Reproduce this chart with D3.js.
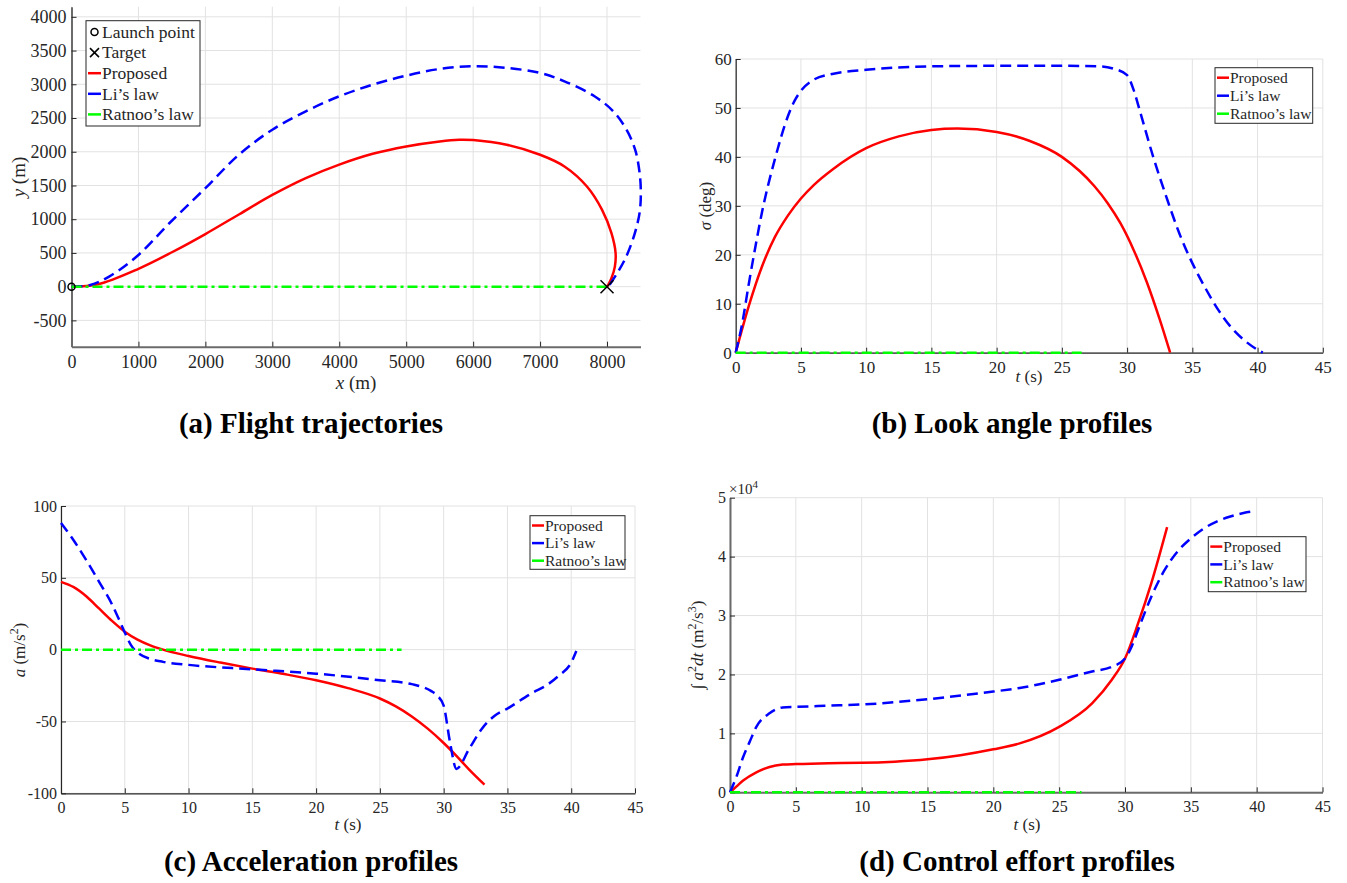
<!DOCTYPE html>
<html>
<head>
<meta charset="utf-8">
<script src="https://cdn.jsdelivr.net/npm/d3@7"></script>
<style>
  body { margin: 0; background: #fff; }
  text { font-family: "Liberation Serif", "Times New Roman", serif; fill: #262626; }
</style>
</head>
<body>
<svg id="fig" width="1347" height="883"></svg>
<script>
// ---------- (a) flight trajectories (m) ----------
const trajPropX = [0, 393, 1000, 1500, 2000, 2500, 3000, 3500, 4000, 4500, 5000, 5500, 5790, 6000, 6500, 7000, 7364, 7700, 7926, 8066, 8128, 8117, 8066, 8030, 8000];
const trajPropY = [0, 35, 265, 510, 780, 1070, 1360, 1610, 1810, 1970, 2079, 2153, 2178, 2173, 2104, 1955, 1782, 1485, 1139, 792, 495, 297, 124, 50, 0];
const trajLiX = [0, 281, 562, 1000, 1461, 2000, 2500, 3000, 3500, 4000, 4500, 5000, 5500, 6000, 6500, 7000, 7364, 7813, 8094, 8291, 8420, 8485, 8505, 8490, 8440, 8365, 8263, 8150, 8020];
const trajLiY = [0, 25, 149, 470, 940, 1460, 1955, 2327, 2599, 2822, 2995, 3128, 3227, 3267, 3242, 3168, 3044, 2822, 2599, 2327, 2030, 1700, 1400, 1120, 880, 640, 396, 198, 0];
const trajRatnooX = [0, 8000];
const trajRatnooY = [0, 0];
const launchPoint = [0, 0];
const targetPoint = [8000, 0];

// ---------- (b) look angle (deg) ----------
const lookPropT = [0, 1, 2, 3, 4, 5, 6, 7.5, 10, 12.5, 15, 17, 20, 22.5, 25, 27.5, 28.5, 29.5, 30.5, 31.5, 32.5, 33.3];
const lookPropV = [0, 9.5, 17.5, 23.6, 28, 31.5, 34.3, 37.6, 41.8, 44.2, 45.5, 45.8, 45.1, 43.3, 40, 34, 30.6, 26.4, 21, 14.5, 6.8, 0];
const lookLiT = [0, 0.5, 1, 1.5, 2, 3, 4, 4.5, 5, 6, 7.5, 10, 15, 20, 25, 28, 29, 30, 30.5, 31, 32, 33, 34, 35, 36, 37, 38, 39, 40, 40.4];
const lookLiV = [0, 6, 14, 21.5, 28.5, 39.5, 48.3, 51.4, 53.5, 55.8, 57, 57.8, 58.5, 58.6, 58.6, 58.5, 58, 56.7, 53.7, 49.2, 40, 31.9, 24.4, 18.3, 13.2, 8.7, 5.1, 2.5, 0.6, 0];
const lookRatnooT = [0, 26.7];
const lookRatnooV = [0, 0];

// ---------- (c) acceleration (m/s^2) ----------
const accPropT = [0, 1, 2, 3, 4, 5, 6, 7, 8, 10, 12.5, 15, 17.5, 20, 22.5, 25, 26.25, 27.5, 28.75, 30, 31, 32, 33.2];
const accPropV = [47.2, 43.5, 37, 28.5, 20, 12.5, 7, 3, 0, -4.4, -9, -13.2, -17, -21.3, -26.8, -34, -39.5, -46.5, -55, -65, -74, -83.5, -94];
const accLiT = [0, 1, 2, 3, 4, 4.5, 5, 5.5, 6, 7, 8, 10, 15, 20, 25, 27.5, 29, 29.5, 30, 30.5, 31, 32, 33, 34, 35, 37, 38, 39, 40, 40.4];
const accLiV = [88.2, 76, 62, 47, 31.5, 22, 12, 3, -2, -6.5, -8.5, -10.6, -13.7, -16.7, -21.3, -24, -28.7, -32, -39, -64.6, -83, -69, -55, -46, -41, -29.9, -25.2, -18.3, -9, -1];
const accRatnooT = [0, 26.7];
const accRatnooV = [0, 0];

// ---------- (d) control effort (m^2/s^3) ----------
const effPropT = [0, 0.5, 1, 2, 3, 4, 5, 7.5, 10, 12.5, 15, 17.5, 20, 22, 25, 27.5, 29, 30, 31, 32, 33.2];
const effPropV = [0, 1000, 2000, 3400, 4300, 4700, 4800, 4950, 5000, 5200, 5600, 6300, 7300, 8300, 11100, 15100, 19100, 22700, 28700, 35500, 45000];
const effLiT = [0, 0.5, 1, 1.5, 2, 3, 4, 5, 7.5, 10, 15, 20, 22, 25, 27.5, 29, 30, 30.5, 31, 32, 33, 34, 35, 36, 37, 38, 39, 39.8];
const effLiV = [0, 2700, 6000, 8600, 11100, 13400, 14400, 14500, 14700, 14900, 15800, 17100, 17700, 19100, 20500, 21300, 22700, 24700, 27600, 33200, 37700, 40900, 43100, 44800, 46000, 46800, 47400, 47700];
const effRatnooT = [0, 26.7];
const effRatnooV = [0, 0];

const seriesNames = ["Proposed", "Li\u2019s law", "Ratnoo\u2019s law"];

// ---------- styles ----------
const styles = {
  prop:   { color: "#ff0000", dash: null },
  li:     { color: "#0000ff", dash: "11,6" },
  ratnoo: { color: "#00ff00", dash: "10,4,3,4" }
};
const LW = 2.5;
const AXIS = "#262626";
const GRID = "#e2e2e2";
const SERIF = "'Liberation Serif', 'Times New Roman', serif";

const svg = d3.select("#fig");
svg.append("rect").attr("width", 1347).attr("height", 883).attr("fill", "#fff");

function makePanel(o) {
  const g = svg.append("g");
  const xs = d3.scaleLinear().domain(o.xDomain).range([o.left, o.right]);
  const ys = d3.scaleLinear().domain(o.yDomain).range([o.bottom, o.top]);

  // grid
  g.append("g").selectAll("line").data(o.xTicks).join("line")
    .attr("x1", d => xs(d)).attr("x2", d => xs(d))
    .attr("y1", o.top).attr("y2", o.bottom)
    .attr("stroke", GRID).attr("stroke-width", 1);
  g.append("g").selectAll("line").data(o.yTicks).join("line")
    .attr("x1", o.left).attr("x2", o.right)
    .attr("y1", d => ys(d)).attr("y2", d => ys(d))
    .attr("stroke", GRID).attr("stroke-width", 1);

  // axes with inward ticks
  const ax = g.append("g").attr("transform", `translate(0,${o.bottom})`)
    .call(d3.axisBottom(xs).tickValues(o.xTicks).tickSize(-5).tickSizeOuter(0).tickPadding(o.xPad).tickFormat(o.xFormat || d3.format("d")));
  const ay = g.append("g").attr("transform", `translate(${o.left},0)`)
    .call(d3.axisLeft(ys).tickValues(o.yTicks).tickSize(-5).tickSizeOuter(0).tickPadding(o.yPad).tickFormat(o.yFormat || d3.format("d")));
  [ax, ay].forEach(a => {
    a.attr("font-family", SERIF);
    a.select(".domain").attr("stroke", o.axisColor || AXIS).attr("stroke-width", o.axisWidth || 1.2);
    a.selectAll(".tick line").attr("stroke", AXIS).attr("stroke-width", 1);
    a.selectAll(".tick text").attr("font-size", o.tickFont).attr("fill", AXIS);
  });
  ay.selectAll(".tick text").text(function () { return this.textContent.replace("\u2212", "-"); });
  return { g, xs, ys };
}

function drawSeries(p, xsArr, ysArr, st, curve) {
  const pts = xsArr.map((v, i) => [v, ysArr[i]]);
  const line = d3.line().x(d => p.xs(d[0])).y(d => p.ys(d[1])).curve(curve || d3.curveMonotoneX);
  p.g.append("path").datum(pts)
    .attr("d", line).attr("fill", "none")
    .attr("stroke", st.color).attr("stroke-width", LW)
    .attr("stroke-dasharray", st.dash).attr("stroke-linejoin", "round");
}

function legend(x, y, w, h, rows, fs, rowH, sampleLen) {
  const g = svg.append("g");
  g.append("rect").attr("x", x).attr("y", y).attr("width", w).attr("height", h)
    .attr("fill", "#fff").attr("stroke", AXIS).attr("stroke-width", 1);
  rows.forEach((r, i) => {
    const cy = y + rowH * (i + 0.5) + 1;
    const sx = x + 2;
    if (r.kind === "line") {
      g.append("line").attr("x1", sx).attr("x2", sx + sampleLen).attr("y1", cy).attr("y2", cy)
        .attr("stroke", r.color).attr("stroke-width", 2.5);
    } else if (r.kind === "circle") {
      g.append("circle").attr("cx", sx + sampleLen / 2).attr("cy", cy).attr("r", 3.5)
        .attr("fill", "none").attr("stroke", "#000").attr("stroke-width", 1.5);
    } else if (r.kind === "cross") {
      const c = sx + sampleLen / 2, s = 4.5;
      g.append("path").attr("d", `M${c - s},${cy - s}L${c + s},${cy + s}M${c - s},${cy + s}L${c + s},${cy - s}`)
        .attr("stroke", "#000").attr("stroke-width", 1.5);
    }
    g.append("text").attr("x", sx + sampleLen + 1).attr("y", cy + fs * 0.33)
      .attr("font-size", fs).text(r.label);
  });
}

function caption(x, y, s) {
  svg.append("text").attr("x", x).attr("y", y).attr("text-anchor", "middle")
    .attr("font-size", 29).attr("font-weight", "bold").style("fill", "#000").text(s);
}

// axis label: italic variables, upright units
function axisLabel(x, y, rotate, fs, parts) {
  const t = svg.append("text").attr("font-size", fs).attr("text-anchor", "middle")
    .attr("transform", `translate(${x},${y})` + (rotate ? " rotate(-90)" : ""));
  parts.forEach(pt => {
    const s = t.append("tspan").text(pt.t);
    if (pt.i) s.attr("font-style", "italic");
    if (pt.sup) s.attr("baseline-shift", "super").attr("font-size", fs * 0.7);
  });
  return t;
}

// ===== (a) =====
const pA = makePanel({
  left: 71.5, right: 640.5, top: 6.7, bottom: 346.7,
  xDomain: [0, 8500], yDomain: [-890, 4150],
  xTicks: d3.range(0, 8001, 1000), yTicks: d3.range(-500, 4001, 500),
  tickFont: 18, xPad: 9, yPad: 5, axisColor: "#6b6b6b", axisWidth: 2
});
drawSeries(pA, trajPropX, trajPropY, styles.prop, d3.curveCatmullRom.alpha(0.5));
drawSeries(pA, trajLiX, trajLiY, styles.li, d3.curveCatmullRom.alpha(0.5));
drawSeries(pA, trajRatnooX, trajRatnooY, styles.ratnoo, d3.curveLinear);
pA.g.append("circle").attr("cx", pA.xs(launchPoint[0])).attr("cy", pA.ys(launchPoint[1])).attr("r", 3.5)
  .attr("fill", "none").attr("stroke", "#000").attr("stroke-width", 1.5);
{
  const cx = pA.xs(targetPoint[0]), cy = pA.ys(targetPoint[1]), s = 6.5;
  pA.g.append("path").attr("d", `M${cx - s},${cy - s}L${cx + s},${cy + s}M${cx - s},${cy + s}L${cx + s},${cy - s}`)
    .attr("stroke", "#000").attr("stroke-width", 1.5);
}
legend(86, 20.7, 114, 105.3, [
  { kind: "circle", label: "Launch point" },
  { kind: "cross", label: "Target" },
  { kind: "line", color: styles.prop.color, label: seriesNames[0] },
  { kind: "line", color: styles.li.color, label: seriesNames[1] },
  { kind: "line", color: styles.ratnoo.color, label: seriesNames[2] }
], 17.5, 20.6, 13);
axisLabel(356, 389, false, 19, [{ t: "x", i: true }, { t: " (m)" }]);
axisLabel(25, 177, true, 19, [{ t: "y", i: true }, { t: " (m)" }]);
caption(311, 433, "(a) Flight trajectories");

// ===== (b) =====
const pB = makePanel({
  left: 735.7, right: 1322.8, top: 59, bottom: 352.7,
  xDomain: [0, 45], yDomain: [0, 60],
  xTicks: d3.range(0, 46, 5), yTicks: d3.range(0, 61, 10),
  tickFont: 17, xPad: 8, yPad: 4
});
drawSeries(pB, lookPropT, lookPropV, styles.prop);
drawSeries(pB, lookLiT, lookLiV, styles.li);
drawSeries(pB, lookRatnooT, lookRatnooV, styles.ratnoo, d3.curveLinear);
legend(1215, 67.7, 97.7, 55.6, [
  { kind: "line", color: styles.prop.color, label: seriesNames[0] },
  { kind: "line", color: styles.li.color, label: seriesNames[1] },
  { kind: "line", color: styles.ratnoo.color, label: seriesNames[2] }
], 15.5, 18, 12);
axisLabel(1029, 382, false, 17, [{ t: "t", i: true }, { t: " (s)" }]);
axisLabel(711, 206, true, 17, [{ t: "\u03c3", i: true }, { t: " (deg)" }]);
caption(1012, 433, "(b) Look angle profiles");

// ===== (c) =====
const pC = makePanel({
  left: 61, right: 635, top: 506, bottom: 793.3,
  xDomain: [0, 45], yDomain: [-100, 100],
  xTicks: d3.range(0, 46, 5), yTicks: d3.range(-100, 101, 50),
  tickFont: 16, xPad: 8, yPad: 4
});
drawSeries(pC, accPropT, accPropV, styles.prop);
drawSeries(pC, accLiT, accLiV, styles.li);
drawSeries(pC, accRatnooT, accRatnooV, styles.ratnoo, d3.curveLinear);
legend(530, 515.7, 95, 53.6, [
  { kind: "line", color: styles.prop.color, label: seriesNames[0] },
  { kind: "line", color: styles.li.color, label: seriesNames[1] },
  { kind: "line", color: styles.ratnoo.color, label: seriesNames[2] }
], 15.5, 17.6, 12);
axisLabel(348, 830, false, 17, [{ t: "t", i: true }, { t: " (s)" }]);
axisLabel(25, 650, true, 17, [{ t: "a", i: true }, { t: " (m/s" }, { t: "2", sup: true }, { t: ")" }]);
caption(311, 871, "(c) Acceleration profiles");

// ===== (d) =====
const pD = makePanel({
  left: 730, right: 1322.5, top: 497.7, bottom: 792.3,
  xDomain: [0, 45], yDomain: [0, 50000],
  xTicks: d3.range(0, 46, 5), yTicks: d3.range(0, 50001, 10000),
  tickFont: 16, xPad: 8, yPad: 4, axisColor: "#6b6b6b", axisWidth: 2,
  yFormat: d => d3.format("d")(d / 10000)
});
drawSeries(pD, effPropT, effPropV, styles.prop);
drawSeries(pD, effLiT, effLiV, styles.li);
drawSeries(pD, effRatnooT, effRatnooV, styles.ratnoo, d3.curveLinear);
legend(1208.3, 536.7, 97.7, 55, [
  { kind: "line", color: styles.prop.color, label: seriesNames[0] },
  { kind: "line", color: styles.li.color, label: seriesNames[1] },
  { kind: "line", color: styles.ratnoo.color, label: seriesNames[2] }
], 15.5, 17.8, 12);
{
  const t = svg.append("text").attr("x", 729).attr("y", 494).attr("font-size", 15);
  t.append("tspan").text("\u00d710");
  t.append("tspan").attr("baseline-shift", "super").attr("font-size", 11).text("4");
}
axisLabel(1027, 830, false, 17, [{ t: "t", i: true }, { t: " (s)" }]);
axisLabel(703, 645, true, 17, [
  { t: "\u222b " }, { t: "a", i: true }, { t: "2", sup: true }, { t: "dt", i: true },
  { t: " (m" }, { t: "2", sup: true }, { t: "/s" }, { t: "3", sup: true }, { t: ")" }
]);
caption(1017, 871, "(d) Control effort profiles");
</script>
</body>
</html>
